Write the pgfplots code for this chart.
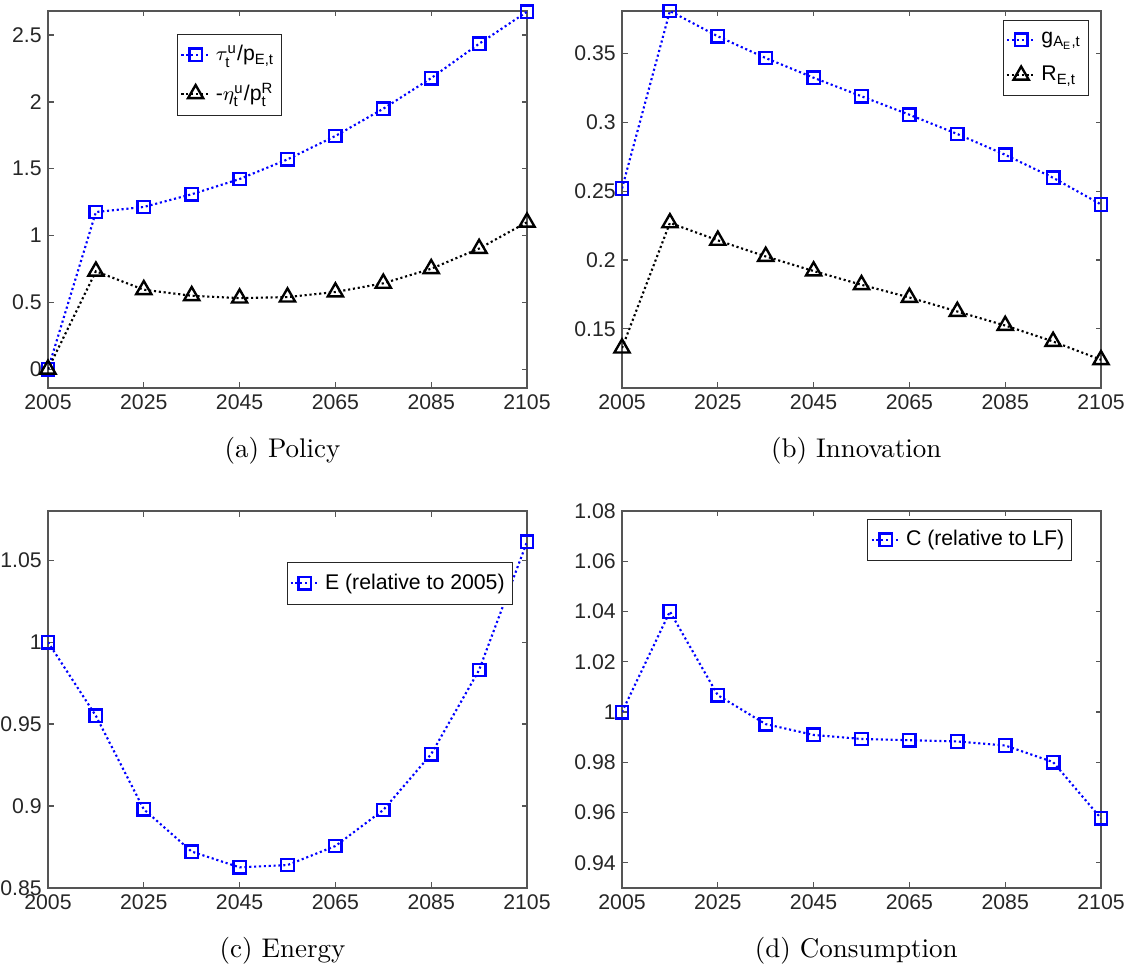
\documentclass[border=0pt]{standalone}
\usepackage{fontspec}
\usepackage{amsmath}
\usepackage{pgfplots}
\pgfplotsset{compat=1.18}
\newfontfamily\arial{Liberation Sans}
\definecolor{axgray}{HTML}{262626}
\definecolor{boxgray}{HTML}{555555}

\pgfplotstableread{
x a1 a2 b1 b2 c1 d1
2005 0.000 0.000 0.252 0.136 1.000 1.000
2015 1.176 0.733 0.381 0.227 0.955 1.040
2025 1.214 0.595 0.3626 0.2143 0.898 1.0067
2035 1.309 0.550 0.3468 0.2026 0.8722 0.9952
2045 1.423 0.532 0.3325 0.1920 0.8626 0.9909
2055 1.570 0.540 0.3190 0.1820 0.8640 0.9893
2065 1.745 0.578 0.3056 0.1728 0.8756 0.9888
2075 1.949 0.643 0.2916 0.1626 0.8976 0.9883
2085 2.178 0.752 0.2765 0.1524 0.9317 0.9867
2095 2.435 0.903 0.2598 0.1408 0.9830 0.9801
2105 2.674 1.100 0.2404 0.1275 1.0612 0.9577
}\data

\pgfplotsset{
  panel/.style={
    scale only axis, width=191.6pt, height=150.8pt,
    xmin=2005, xmax=2105, xtick={2005,2025,...,2105},
    axis line style={boxgray, line width=0.5pt},
    tick style={boxgray, line width=0.5pt},
    tick align=inside, major tick length=2.2pt,
    xtick pos=both, ytick pos=both,
    ticklabel style={font=\arial\fontsize{8.5}{10}\selectfont, text=axgray},
    /pgf/number format/assume math mode=true,
    /pgf/number format/1000 sep={},
    /pgf/number format/fixed,
    /pgf/number format/precision=2,
    xticklabel style={yshift=1pt},
    yticklabel style={xshift=1pt},
    legend style={draw=axgray, line width=0.4pt, font=\arial\fontsize{8.5}{10}\selectfont,
      inner xsep=1pt, inner ysep=2.5pt, row sep=3.5pt},
    legend cell align=left,
    legend image code/.code={
      \draw[mark repeat=2,mark phase=2] plot coordinates {(0cm,0cm) (0.2cm,0cm) (0.4cm,0cm)};},
  },
  blueS/.style={blue, line width=0.85pt, dash pattern=on 0.85pt off 1.1pt,
    mark=square, mark size=2.5pt, mark options={solid, line width=0.95pt}},
  blackT/.style={black, line width=0.85pt, dash pattern=on 0.85pt off 1.1pt,
    mark=triangle, mark size=3.5pt, mark options={solid, line width=0.95pt}},
}

\begin{document}
\begin{tikzpicture}
\path[use as bounding box] (0,0) rectangle (450pt,388pt);

% (a)
\begin{axis}[panel, at={(19.2pt,232.8pt)}, anchor=south west,
  ymin=-0.14, ymax=2.68, ytick={0,0.5,1,1.5,2,2.5},
  legend style={at={(0.27,0.94)}, anchor=north west}]
\addplot[blueS] table[x=x,y=a1]{\data};
\addlegendentry{$\tau^{\text{u}}_{\text{t}}$/p$_{\text{E,t}}$}
\addplot[blackT] table[x=x,y=a2]{\data};
\addlegendentry{-$\eta^{\text{u}}_{\text{t}}$/p$^{\text{R}}_{\text{t}}$}
\end{axis}

% (b)
\begin{axis}[panel, at={(248.8pt,232.8pt)}, anchor=south west,
  ymin=0.107, ymax=0.381, ytick={0.15,0.2,0.25,0.3,0.35},
  legend style={at={(0.975,0.975)}, anchor=north east}]
\addplot[blueS] table[x=x,y=b1]{\data};
\addlegendentry{g$_{\text{A}_{\text{E}}\text{,t}}$}
\addplot[blackT] table[x=x,y=b2]{\data};
\addlegendentry{R$_{\text{E,t}}$}
\end{axis}

% (c)
\begin{axis}[panel, at={(19.2pt,32.8pt)}, anchor=south west,
  ymin=0.85, ymax=1.08, ytick={0.85,0.9,0.95,1,1.05},
  legend style={at={(0.97,0.865)}, anchor=north east}]
\addplot[blueS] table[x=x,y=c1]{\data};
\addlegendentry{E (relative to 2005)}
\end{axis}

% (d)
\begin{axis}[panel, at={(248.8pt,32.8pt)}, anchor=south west,
  ymin=0.93, ymax=1.08, ytick={0.94,0.96,0.98,1,1.02,1.04,1.06,1.08},
  legend style={at={(0.94,0.98)}, anchor=north east}]
\addplot[blueS] table[x=x,y=d1]{\data};
\addlegendentry{C (relative to LF)}
\end{axis}

\node[font=\fontsize{10.8}{12}\selectfont] at (113pt,207.6pt) {(a) Policy};
\node[font=\fontsize{10.8}{12}\selectfont] at (342.5pt,207.6pt) {(b) Innovation};
\node[font=\fontsize{10.8}{12}\selectfont] at (113pt,7.6pt) {(c) Energy};
\node[font=\fontsize{10.8}{12}\selectfont] at (342.5pt,7.6pt) {(d) Consumption};
\end{tikzpicture}
\end{document}
